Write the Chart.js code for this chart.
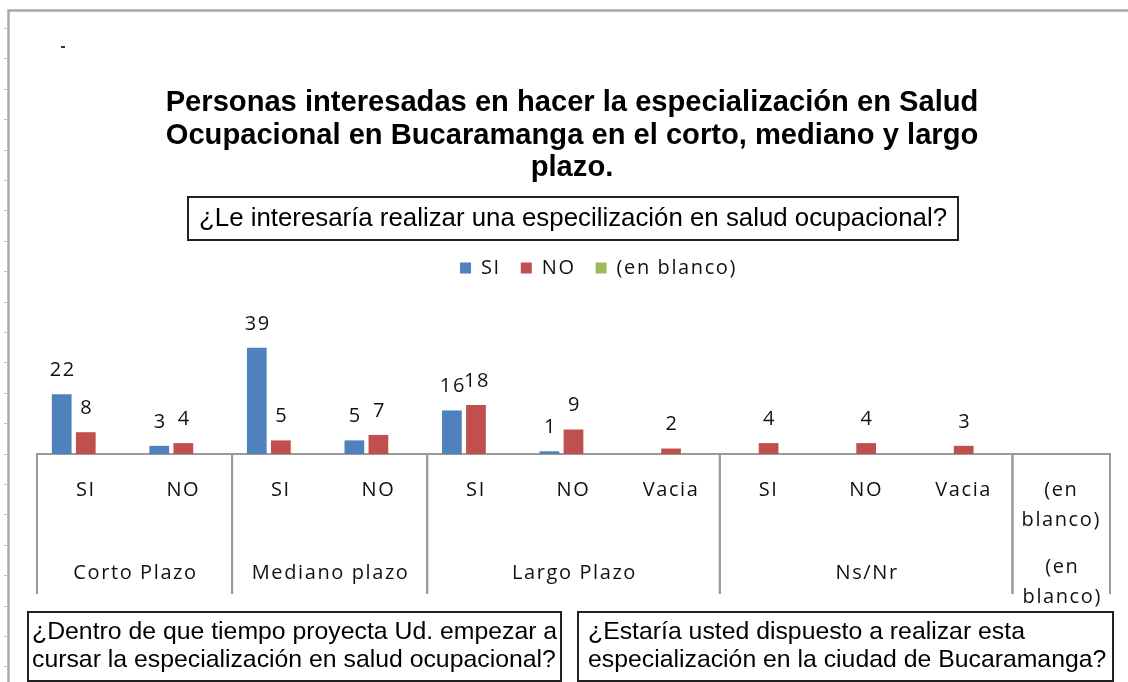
<!DOCTYPE html>
<html><head><meta charset="utf-8">
<script src="https://cdn.jsdelivr.net/npm/chart.js@4.4.1/dist/chart.umd.min.js"></script>
<style>html,body{margin:0;padding:0;background:#fff;}</style>
</head><body>
<canvas id="c" width="1128" height="682"></canvas>
<script>
// ---- data ----
const categories = ['SI','NO','SI','NO','SI','NO','Vacia','SI','NO','Vacia','(en blanco)'];
const groupLabels = ['Corto Plazo','Mediano plazo','Largo Plazo','Ns/Nr','(en blanco)'];
const groupSizes = [2,2,3,3,1];
const siValues = [22,3,39,5,16,1,null,null,null,null,null];
const noValues = [8,4,5,7,18,9,2,4,4,3,null];
const blancoValues = [null,null,null,null,null,null,null,null,null,null,null];
const seriesNames = ['SI','NO','(en blanco)'];
const titleLines = ['Personas interesadas en hacer la especialización en Salud','Ocupacional en Bucaramanga en el corto, mediano y largo','plazo.'];
const subtitleText = '¿Le interesaría realizar una especilización en salud ocupacional?';
const leftBoxLines = ['¿Dentro de que tiempo proyecta Ud. empezar a','cursar la especialización en salud ocupacional?'];
const rightBoxLines = ['¿Estaría usted dispuesto a realizar esta','especialización en la ciudad de Bucaramanga?'];

const LS = '1.6px';
const LFONT = '"Open Sans"';
const AFONT = '"Liberation Sans", Arial, sans-serif';
const TXT = '#111';

function fitSize(ctx, text, weight, family, target){
  ctx.letterSpacing = '0px';
  ctx.font = weight + ' 100px ' + family;
  return 100 * target / ctx.measureText(text).width;
}

const decor = {
  id: 'decor',
  beforeLayout(chart){ chart.ctx.letterSpacing = LS; },
  afterLayout(chart){ const lg = chart.legend; if (lg){ lg.left += 25; lg.right += 25; } },
  beforeDraw(chart){
    const ctx = chart.ctx;
    ctx.save(); ctx.fillStyle = '#fff'; ctx.fillRect(0,0,chart.width,chart.height); ctx.restore();
    ctx.letterSpacing = LS;
  },
  afterDraw(chart){
    const ctx = chart.ctx;
    ctx.save();
    // sheet frame
    ctx.strokeStyle = '#a8a8a8'; ctx.lineWidth = 2.5;
    ctx.beginPath(); ctx.moveTo(8.5, 682); ctx.lineTo(8.5, 10.5); ctx.lineTo(1128, 10.5); ctx.stroke();
    ctx.strokeStyle = '#c4c4c4'; ctx.lineWidth = 1;
    for (let y = 28; y < 682; y += 30.4){ ctx.beginPath(); ctx.moveTo(4, Math.round(y)+0.5); ctx.lineTo(7, Math.round(y)+0.5); ctx.stroke(); }
    ctx.fillStyle = '#333'; ctx.fillRect(61, 46, 4, 2);

    // title
    ctx.letterSpacing = '0px';
    const ts = fitSize(ctx, titleLines[0], 'bold', AFONT, 813);
    ctx.font = 'bold ' + ts.toFixed(2) + 'px ' + AFONT;
    ctx.fillStyle = '#000'; ctx.textAlign = 'center'; ctx.textBaseline = 'middle';
    titleLines.forEach((t, i) => ctx.fillText(t, 572, 103 + i * 32.5));

    // subtitle box
    ctx.strokeStyle = '#222'; ctx.lineWidth = 2;
    ctx.strokeRect(188, 197, 770, 43);
    const ss = fitSize(ctx, subtitleText, 'normal', AFONT, 748);
    ctx.font = ss.toFixed(2) + 'px ' + AFONT;
    ctx.fillStyle = '#000'; ctx.textAlign = 'center';
    ctx.fillText(subtitleText, 573, 219);

    // bottom boxes
    ctx.strokeRect(28, 612, 533, 69);
    ctx.strokeRect(578, 612, 535, 69);
    const bs = fitSize(ctx, leftBoxLines[1], 'normal', AFONT, 524);
    ctx.font = bs.toFixed(2) + 'px ' + AFONT;
    ctx.textAlign = 'left';
    leftBoxLines.forEach((t, i) => ctx.fillText(t, 32, 632 + i * 28));
    rightBoxLines.forEach((t, i) => ctx.fillText(t, 588, 632 + i * 28));

    // multi-level axis: group dividers and labels
    const xs = chart.scales.x;
    const cw = (xs.right - xs.left) / categories.length;
    const base = chart.chartArea.bottom;
    ctx.strokeStyle = '#9a9a9a'; ctx.lineWidth = 2;
    ctx.letterSpacing = LS;
    ctx.font = '20px ' + LFONT; ctx.fillStyle = TXT; ctx.textAlign = 'center';
    let idx = 0;
    groupSizes.forEach((n, g) => {
      const x0 = xs.getPixelForValue(idx) - cw / 2;
      const x1 = xs.getPixelForValue(idx + n - 1) + cw / 2;
      [x0, x1].forEach(x => { ctx.beginPath(); ctx.moveTo(x, base); ctx.lineTo(x, base + 140); ctx.stroke(); });
      const cx = (x0 + x1) / 2;
      const lbl = groupLabels[g];
      if (lbl === '(en blanco)') { ctx.fillText('(en', cx + 1, 567); ctx.fillText('blanco)', cx + 1, 597); }
      else ctx.fillText(lbl, cx + 1, 573);
      idx += n;
    });

    // data labels
    chart.data.datasets.forEach((ds, di) => {
      const meta = chart.getDatasetMeta(di);
      meta.data.forEach((el, i) => {
        const v = ds.data[i];
        if (v === null || v === undefined) return;
        ctx.fillText(String(v), el.x + 1, el.y - 24);
      });
    });
    ctx.restore();
  }
};

new Chart(document.getElementById('c'), {
  type: 'bar',
  data: {
    labels: categories,
    datasets: [
      { label: seriesNames[0], data: siValues, backgroundColor: '#4F81BD' },
      { label: seriesNames[1], data: noValues, backgroundColor: '#C0504D' },
      { label: seriesNames[2], data: blancoValues, backgroundColor: '#9BBB59' }
    ]
  },
  options: {
    responsive: false,
    animation: false,
    events: [],
    layout: { padding: { top: 238, left: 37, right: 18, bottom: 0 } },
    datasets: { bar: { categoryPercentage: 0.74, barPercentage: 0.82 } },
    plugins: {
      title: { display: false },
      tooltip: { enabled: false },
      legend: {
        display: true, position: 'top',
        labels: { boxWidth: 11, boxHeight: 11, padding: 20, color: TXT, font: { family: 'Open Sans', size: 20 } }
      }
    },
    scales: {
      x: {
        grid: { display: false, drawTicks: false },
        border: { display: true, color: '#9a9a9a', width: 2 },
        ticks: {
          color: TXT, padding: 21, maxRotation: 0, autoSkip: false,
          font: { family: 'Open Sans', size: 20, lineHeight: 1.5 },
          callback: (v, i) => categories[i] === '(en blanco)' ? ['(en', 'blanco)'] : categories[i]
        },
        afterFit: (axis) => { axis.height = 228; }
      },
      y: { display: false, min: 0, max: 61 }
    }
  },
  plugins: [decor]
});
</script>
</body></html>
